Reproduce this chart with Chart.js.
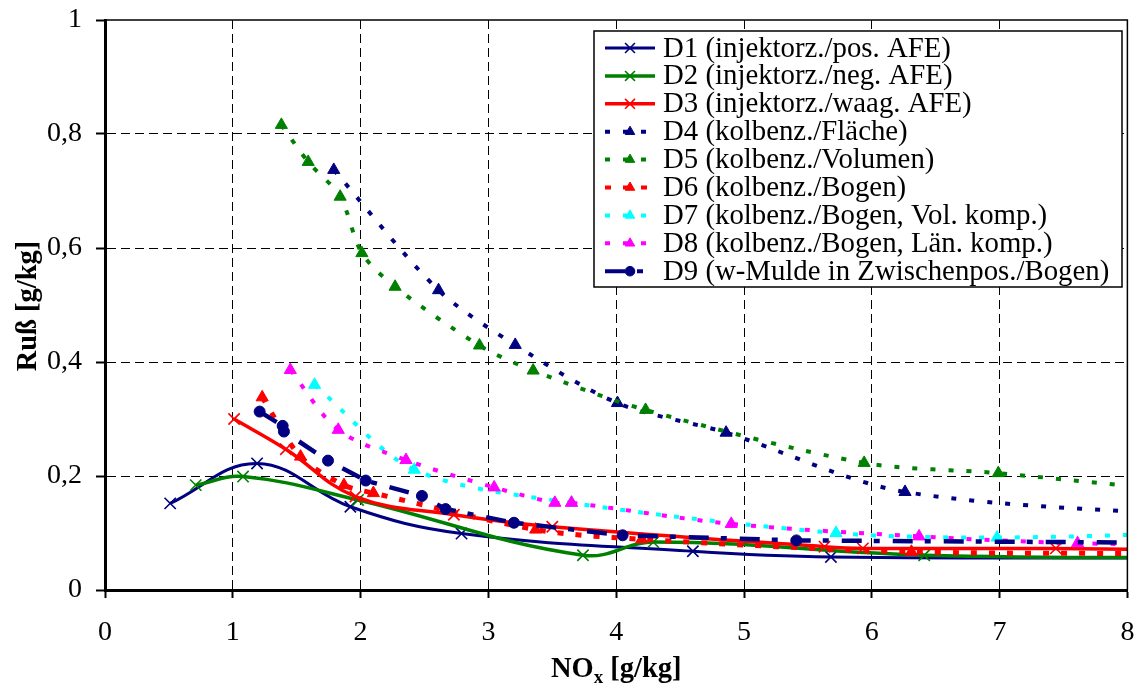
<!DOCTYPE html>
<html>
<head>
<meta charset="utf-8">
<script src="https://cdn.jsdelivr.net/npm/chart.js@4.4.1/dist/chart.umd.min.js"></script>
<style>
  html, body { margin: 0; padding: 0; background: #fff; }
  #wrap { width: 1137px; height: 686px; }
</style>
</head>
<body>
<div id="wrap"><canvas id="c" width="1137" height="686"></canvas></div>
<script>
// Soot (Ruß) over NOx for nine nozzle / bowl variants
const seriesLabels = [
  'D1 (injektorz./pos. AFE)',
  'D2 (injektorz./neg. AFE)',
  'D3 (injektorz./waag. AFE)',
  'D4 (kolbenz./Fläche)',
  'D5 (kolbenz./Volumen)',
  'D6 (kolbenz./Bogen)',
  'D7 (kolbenz./Bogen, Vol. komp.)',
  'D8 (kolbenz./Bogen, Län. komp.)',
  'D9 (w-Mulde in Zwischenpos./Bogen)'
];

// NOx [g/kg] and Ruß [g/kg] per series (last point of each lies past the axis end)
const d1NOx  = [0.51, 1.19, 1.92, 2.79, 4.60, 5.68, 9.0];
const d1Russ = [0.152, 0.222, 0.146, 0.099, 0.068, 0.058, 0.056];

const d2NOx  = [0.71, 1.08, 1.98, 3.74, 4.29, 6.41, 9.0];
const d2Russ = [0.184, 0.199, 0.158, 0.061, 0.084, 0.061, 0.056];

const d3NOx  = [1.01, 1.415, 1.96, 2.73, 3.50, 5.63, 5.93, 7.44, 9.0];
const d3Russ = [0.300, 0.247, 0.164, 0.132, 0.111, 0.076, 0.073, 0.073, 0.068];

const d4NOx  = [1.79, 2.61, 3.21, 4.01, 4.86, 6.26, 9.0];
const d4Russ = [0.737, 0.526, 0.430, 0.328, 0.276, 0.172, 0.125];

const d5NOx  = [1.38, 1.59, 1.84, 2.01, 2.27, 2.93, 3.35, 4.23, 5.94, 6.99, 9.0];
const d5Russ = [0.816, 0.751, 0.690, 0.591, 0.532, 0.429, 0.385, 0.316, 0.223, 0.205, 0.160];

const d6NOx  = [1.23, 1.53, 1.87, 2.10, 3.37, 4.20, 6.31, 9.0];
const d6Russ = [0.338, 0.234, 0.184, 0.170, 0.106, 0.089, 0.067, 0.064];

const d7NOx  = [1.64, 2.42, 3.65, 5.72, 6.98, 9.0];
const d7Russ = [0.360, 0.211, 0.153, 0.100, 0.092, 0.103];

const d8NOx  = [1.45, 1.825, 2.355, 3.045, 3.52, 3.65, 4.90, 6.37, 7.61, 9.0];
const d8Russ = [0.386, 0.281, 0.228, 0.180, 0.153, 0.153, 0.116, 0.094, 0.082, 0.080];

const d9NOx  = [1.21, 1.39, 1.40, 1.745, 2.04, 2.48, 2.665, 3.20, 4.05, 5.41, 9.0];
const d9Russ = [0.313, 0.288, 0.278, 0.227, 0.192, 0.165, 0.142, 0.118, 0.096, 0.087, 0.082];

const xTicks = [0, 1, 2, 3, 4, 5, 6, 7, 8];
const yTicks = [0, 0.2, 0.4, 0.6, 0.8, 1];

const NAVY = '#000080', GREEN = '#008000', RED = '#ff0000', CYAN = '#00ffff', MAGENTA = '#ff00ff';
const SERIF = '"Liberation Serif", "Times New Roman", serif';

const xs = [d1NOx, d2NOx, d3NOx, d4NOx, d5NOx, d6NOx, d7NOx, d8NOx, d9NOx];
const ys = [d1Russ, d2Russ, d3Russ, d4Russ, d5Russ, d6Russ, d7Russ, d8Russ, d9Russ];

const styles = [
  { color: NAVY,    width: 3,   dash: [],               point: 'crossRot', r: 8,   pbw: 1.6, tension: 0.4 },
  { color: GREEN,   width: 3.5, dash: [],               point: 'crossRot', r: 8,   pbw: 1.6, tension: 0.4 },
  { color: RED,     width: 3.5, dash: [],               point: 'crossRot', r: 8,   pbw: 1.6, tension: 0.4 },
  { color: NAVY,    width: 4,   dash: [5, 13],          point: 'triangle', r: 7,   pbw: 1,   tension: 0.3 },
  { color: GREEN,   width: 4,   dash: [5, 13],          point: 'triangle', r: 7,   pbw: 1,   tension: 0.3 },
  { color: RED,     width: 5,   dash: [6, 12],          point: 'triangle', r: 7,   pbw: 1,   tension: 0.3 },
  { color: CYAN,    width: 4,   dash: [5, 13],          point: 'triangle', r: 7,   pbw: 1,   tension: 0.3 },
  { color: MAGENTA, width: 4,   dash: [5, 13],          point: 'triangle', r: 7,   pbw: 1,   tension: 0.3 },
  { color: NAVY,    width: 4.5, dash: [20, 12, 6, 13],  point: 'circle',   r: 5.5, pbw: 1,   tension: 0 }
];

const datasets = seriesLabels.map((label, i) => ({
  label,
  data: xs[i].map((x, k) => ({ x, y: ys[i][k] })),
  showLine: true,
  borderColor: styles[i].color,
  backgroundColor: styles[i].color,
  borderWidth: styles[i].width,
  borderDash: styles[i].dash,
  borderCapStyle: 'butt',
  tension: styles[i].tension,
  pointStyle: styles[i].point,
  pointRadius: styles[i].r,
  pointBorderWidth: styles[i].pbw,
  pointBorderColor: styles[i].color,
  pointBackgroundColor: styles[i].color,
  pointHoverRadius: styles[i].r,
  clip: 0,
  order: -i
}));

const fmt = v => String(Math.round(v * 10) / 10).replace('.', ',');

function drawMarker(ctx, style, x, y, r, color, bw) {
  ctx.save();
  ctx.setLineDash([]);
  ctx.strokeStyle = color;
  ctx.fillStyle = color;
  ctx.lineWidth = bw;
  ctx.beginPath();
  if (style === 'crossRot') {
    const o = r * Math.SQRT1_2;
    ctx.moveTo(x - o, y - o); ctx.lineTo(x + o, y + o);
    ctx.moveTo(x - o, y + o); ctx.lineTo(x + o, y - o);
    ctx.stroke();
  } else if (style === 'triangle') {
    ctx.moveTo(x, y - r);
    ctx.lineTo(x + r * 0.866, y + r * 0.5);
    ctx.lineTo(x - r * 0.866, y + r * 0.5);
    ctx.closePath();
    ctx.fill(); ctx.stroke();
  } else {
    ctx.arc(x, y, r, 0, Math.PI * 2);
    ctx.fill(); ctx.stroke();
  }
  ctx.restore();
}

// Frame, legend panel and axis titles
const decor = {
  id: 'decor',
  afterDatasetsDraw(chart) {
    const ctx = chart.ctx;
    const a = chart.chartArea;
    ctx.save();
    // thin frame on top and right
    ctx.strokeStyle = '#000';
    ctx.lineWidth = 1.5;
    ctx.setLineDash([]);
    ctx.beginPath();
    ctx.moveTo(a.left, a.top); ctx.lineTo(a.right, a.top); ctx.lineTo(a.right, a.bottom);
    ctx.stroke();

    // legend panel
    const box = { left: 594, top: 31, right: 1122, bottom: 287 };
    const rowY0 = 48, rowStep = 27.9, lineFrom = 605, lineTo = 655, textX = 663;
    ctx.fillStyle = '#fff';
    ctx.fillRect(box.left, box.top, box.right - box.left, box.bottom - box.top);
    ctx.lineWidth = 1.5;
    ctx.strokeRect(box.left, box.top, box.right - box.left, box.bottom - box.top);
    ctx.font = '28.8px ' + SERIF;
    ctx.textBaseline = 'middle';
    ctx.textAlign = 'left';
    chart.data.datasets.forEach((ds, i) => {
      const y = rowY0 + i * rowStep;
      ctx.save();
      ctx.strokeStyle = ds.borderColor;
      ctx.lineWidth = Math.min(ds.borderWidth, 4);
      ctx.setLineDash(ds.borderDash);
      ctx.lineCap = 'butt';
      ctx.beginPath();
      ctx.moveTo(lineFrom, y); ctx.lineTo(lineTo, y);
      ctx.stroke();
      ctx.restore();
      const st = styles[i];
      const lr = st.point === 'crossRot' ? 7 : (st.point === 'triangle' ? 5.5 : 4.8);
      drawMarker(ctx, st.point, (lineFrom + lineTo) / 2, y, lr, ds.borderColor, st.pbw);
      ctx.fillStyle = '#000';
      ctx.fillText(ds.label, textX, y + 1);
    });
    ctx.restore();
  },
  afterDraw(chart) {
    const ctx = chart.ctx;
    const a = chart.chartArea;
    ctx.save();
    ctx.fillStyle = '#000';
    // x title with subscript
    const big = 'bold 28.5px ' + SERIF, small = 'bold 19px ' + SERIF;
    ctx.font = big; const wNO = ctx.measureText('NO').width;
    const wRest = ctx.measureText(' [g/kg]').width;
    ctx.font = small; const wx = ctx.measureText('x').width;
    const total = wNO + wx + wRest;
    let x0 = (a.left + a.right) / 2 - total / 2;
    const base = 677;
    ctx.textBaseline = 'alphabetic';
    ctx.textAlign = 'left';
    ctx.font = big; ctx.fillText('NO', x0, base);
    ctx.font = small; ctx.fillText('x', x0 + wNO, base + 6);
    ctx.font = big; ctx.fillText(' [g/kg]', x0 + wNO + wx, base);
    // y title
    ctx.translate(36, (a.top + a.bottom) / 2 + 1);
    ctx.rotate(-Math.PI / 2);
    ctx.textAlign = 'center';
    ctx.font = big;
    ctx.fillText('Ruß [g/kg]', 0, 0);
    ctx.restore();
  }
};

const gridColor = ctx => {
  const v = ctx.tick ? ctx.tick.value : null;
  const s = ctx.scale;
  return (v === s.min || v === s.max) ? 'rgba(0,0,0,0)' : '#000';
};

// keep the plot area fixed; edge labels may overhang
const noScalePadding = s => { s.paddingLeft = 0; s.paddingRight = 0; s.paddingTop = 0; s.paddingBottom = 0; };

new Chart(document.getElementById('c'), {
  type: 'scatter',
  data: { datasets },
  options: {
    responsive: false,
    animation: false,
    devicePixelRatio: 1,
    layout: { padding: { top: 20, right: 1, left: 0, bottom: 0 } },
    plugins: { legend: { display: false }, tooltip: { enabled: false } },
    scales: {
      x: {
        type: 'linear', min: xTicks[0], max: xTicks[xTicks.length - 1],
        afterBuildTicks: s => { s.ticks = xTicks.map(v => ({ value: v })); },
        ticks: { color: '#000', font: { family: SERIF, size: 28 }, padding: 18, maxRotation: 0,
                 callback: v => fmt(v) },
        grid: { color: gridColor, lineWidth: 1, tickColor: '#000', tickLength: 8, tickWidth: 2 },
        border: { display: true, color: '#000', width: 3, dash: [9, 5] },
        afterFit: s => { s.height = 96; noScalePadding(s); }
      },
      y: {
        type: 'linear', min: yTicks[0], max: yTicks[yTicks.length - 1],
        afterBuildTicks: s => { s.ticks = yTicks.map(v => ({ value: v })); },
        ticks: { color: '#000', font: { family: SERIF, size: 28 }, padding: 14,
                 callback: v => fmt(v) },
        grid: { color: gridColor, lineWidth: 1, tickColor: '#000', tickLength: 9, tickWidth: 2 },
        border: { display: true, color: '#000', width: 3, dash: [9, 5] },
        afterFit: s => { s.width = 105; noScalePadding(s); }
      }
    }
  },
  plugins: [decor]
});
</script>
</body>
</html>
